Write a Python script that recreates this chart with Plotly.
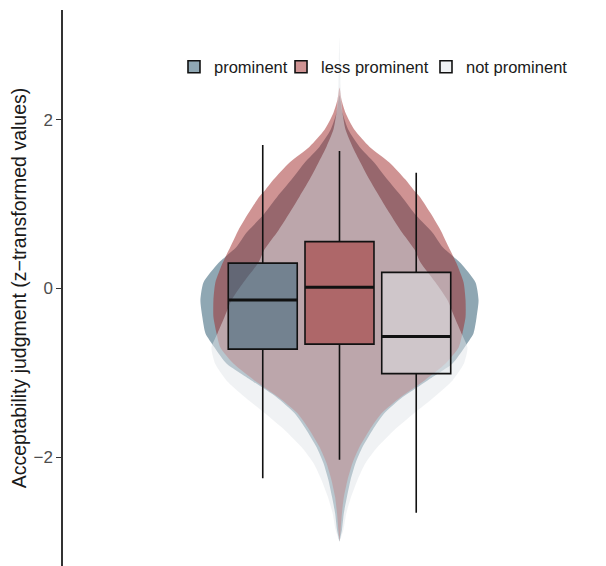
import plotly.graph_objects as go

# ---- data ----
groups = ["prominent", "less prominent", "not prominent"]

# violin outlines: y levels and half-widths (density scaled)
prom_y = [2.29, 2.08, 1.88, 1.68, 1.49, 1.29, 1.09, 0.86, 0.66, 0.49, 0.30, 0.07, -0.14, -0.34,
          -0.53, -0.70, -0.89, -1.09, -1.29, -1.48, -1.68, -1.88, -2.07, -2.27, -2.47, -2.66, -2.86, -3.00]
prom_w = [0, .011, .032, .072, .126, .173, .224, .278, .336, .372, .437, .491, .502, .495,
          .484, .451, .408, .318, .227, .162, .119, .083, .058, .040, .027, .016, .009, 0]

less_y = [2.38, 2.24, 2.08, 1.88, 1.68, 1.49, 1.29, 1.17, 1.09, 0.89, 0.69, 0.49, 0.30, 0.07, -0.14,
          -0.34, -0.53, -0.70, -0.89, -1.09, -1.29, -1.48, -1.68, -1.88, -2.07, -2.27, -2.47, -2.66, -2.86, -3.00]
less_w = [0, .007, .022, .054, .108, .181, .238, .267, .289, .329, .365, .394, .422, .448, .455,
          .455, .444, .430, .383, .307, .220, .152, .108, .072, .047, .029, .016, .009, .004, 0]

not_y = [2.97, 2.71, 2.38, 2.08, 1.88, 1.68, 1.49, 1.29, 1.09, 0.89, 0.69, 0.46, 0.31, 0.07, -0.14,
         -0.34, -0.53, -0.70, -0.89, -1.09, -1.29, -1.48, -1.68, -1.88, -2.07, -2.27, -2.47, -2.66, -2.86, -3.00]
not_w = [0, .002, .004, .011, .022, .047, .076, .108, .144, .181, .220, .271, .292, .347, .390,
         .415, .440, .462, .449, .408, .341, .269, .197, .137, .094, .065, .042, .025, .014, 0]

# box statistics
q1 = [-0.72, -0.66, -1.01]
median = [-0.136, 0.014, -0.57]
q3 = [0.30, 0.555, 0.19]
lowerfence = [-2.25, -2.03, -2.66]
upperfence = [1.70, 1.63, 1.37]

# ---- styling / layout ----
colors = ["rgba(62,104,124,0.58)", "rgba(160,40,40,0.5)", "rgba(225,229,234,0.5)"]
box_pos = [-0.277, 0.0, 0.277]
box_w = 0.249
XR = [-0.998, 0.962]
YR = [-3.29, 3.30]
legend_names = ["legend", "legend2", "legend3"]
legend_x = [0.2044, 0.4015, 0.6685]

fig = go.Figure()

for ys, ws, c in [(prom_y, prom_w, colors[0]), (less_y, less_w, colors[1]), (not_y, not_w, colors[2])]:
    xs = list(ws) + [-w for w in ws[::-1]]
    yy = list(ys) + list(ys[::-1])
    fig.add_trace(go.Scatter(x=xs, y=yy, fill="toself", fillcolor=c, mode="lines",
                             line=dict(width=0, shape="spline", smoothing=0.6),
                             showlegend=False, hoverinfo="skip", xaxis="x", yaxis="y"))

for i, g in enumerate(groups):
    fig.add_trace(go.Box(name=g, x=[box_pos[i]], q1=[q1[i]], median=[median[i]], q3=[q3[i]],
                         lowerfence=[lowerfence[i]], upperfence=[upperfence[i]],
                         width=box_w, fillcolor=colors[i], whiskerwidth=0, boxpoints=False,
                         line=dict(color="#111111", width=1.6), xaxis="x2", yaxis="y2",
                         legend=legend_names[i]))
    fig.add_trace(go.Scatter(x=[box_pos[i] - box_w / 2, box_pos[i] + box_w / 2],
                             y=[median[i], median[i]], mode="lines",
                             line=dict(color="#111111", width=3), showlegend=False,
                             hoverinfo="skip", xaxis="x2", yaxis="y2"))

leg_common = dict(orientation="h", y=0.8975, xanchor="left", yanchor="middle",
                  bgcolor="rgba(0,0,0,0)", font=dict(size=16.5, color="#1a1a1a"))

fig.update_layout(
    width=606, height=566,
    margin=dict(l=63, r=0, t=10, b=0, autoexpand=False),
    plot_bgcolor="white", paper_bgcolor="white",
    font=dict(family="Liberation Sans, Arial, sans-serif", color="#1a1a1a"),
    showlegend=True,
    legend=dict(x=legend_x[0], **leg_common),
    legend2=dict(x=legend_x[1], **leg_common),
    legend3=dict(x=legend_x[2], **leg_common),
    xaxis=dict(range=XR, visible=False, fixedrange=True),
    yaxis=dict(range=YR, tickvals=[-2, 0, 2], ticks="outside", ticklen=5, tickwidth=1.2,
               tickcolor="#333333", showline=True, linecolor="#333333", linewidth=1.5,
               showgrid=False, zeroline=False, tickfont=dict(size=17, color="#4d4d4d"),
               automargin=False,
               title=dict(text="Acceptability judgment (z\u2212transformed values)",
                          font=dict(size=19.5, color="#1a1a1a"), standoff=2)),
    xaxis2=dict(range=XR, visible=False, overlaying="x"),
    yaxis2=dict(range=YR, visible=False, overlaying="y"),
    boxmode="overlay",
)

fig.write_html("out.html", config={"displayModeBar": False},
               post_script="document.body.style.margin='0';")
